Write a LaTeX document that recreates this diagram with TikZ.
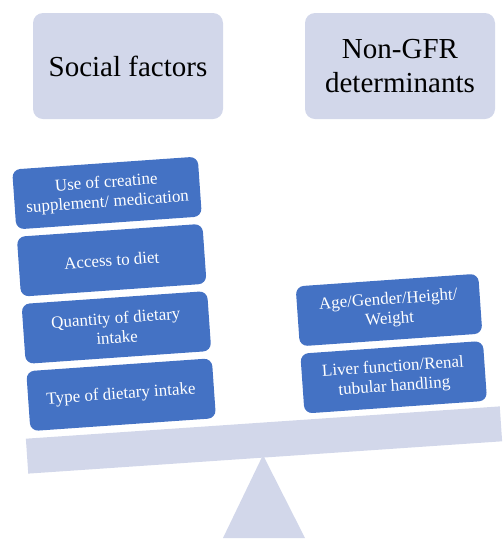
\documentclass[tikz,border=0pt]{standalone}
\usepackage{fontspec}
\setmainfont{Liberation Serif}
\usetikzlibrary{positioning}
\definecolor{boxblue}{RGB}{68,114,196}
\definecolor{lilac}{RGB}{210,215,234}
\begin{document}
\begin{tikzpicture}[x=1pt,y=-1pt,
    topbox/.style={fill=lilac,rounded corners=10pt,minimum width=190pt,
      minimum height=106pt,align=center,
      font=\rmfamily\fontsize{29}{34}\selectfont},
    factor/.style={fill=boxblue,rounded corners=8pt,minimum width=186pt,
      minimum height=60pt,align=center,text=white,inner sep=2pt,
      font=\rmfamily\fontsize{17}{19.5}\selectfont},
    node distance=7pt]
  \useasboundingbox (0,0) rectangle (504,550);
  \node[topbox] (social) at (128,66) {Social factors};
  \node[topbox] (nongfr) at (400,66) {Non-GFR\\determinants};
  % fulcrum and beam
  \fill[lilac] (223,538) -- (305,538) -- (263,455) -- cycle;
  \node[fill=lilac,inner sep=0pt,minimum width=475pt,minimum height=35pt,
    rotate=3.9] (beam) at (264,440) {};
  % left pan
  \begin{scope}[shift={(107,193)},rotate=4,transform shape]
    \node[factor] (creatine) {Use of creatine\\supplement/ medication};
    \node[factor,below=of creatine] (access) {Access to diet};
    \node[factor,below=of access] (quantity) {Quantity of dietary\\intake};
    \node[factor,below=of quantity] (type) {Type of dietary intake};
  \end{scope}
  % right pan
  \begin{scope}[shift={(389,310)},rotate=4,transform shape]
    \node[factor,minimum width=183pt] (age) {Age/Gender/Height/\\Weight};
    \node[factor,minimum width=183pt,below=of age] (liver)
      {Liver function/Renal\\tubular handling};
  \end{scope}
\end{tikzpicture}
\end{document}
